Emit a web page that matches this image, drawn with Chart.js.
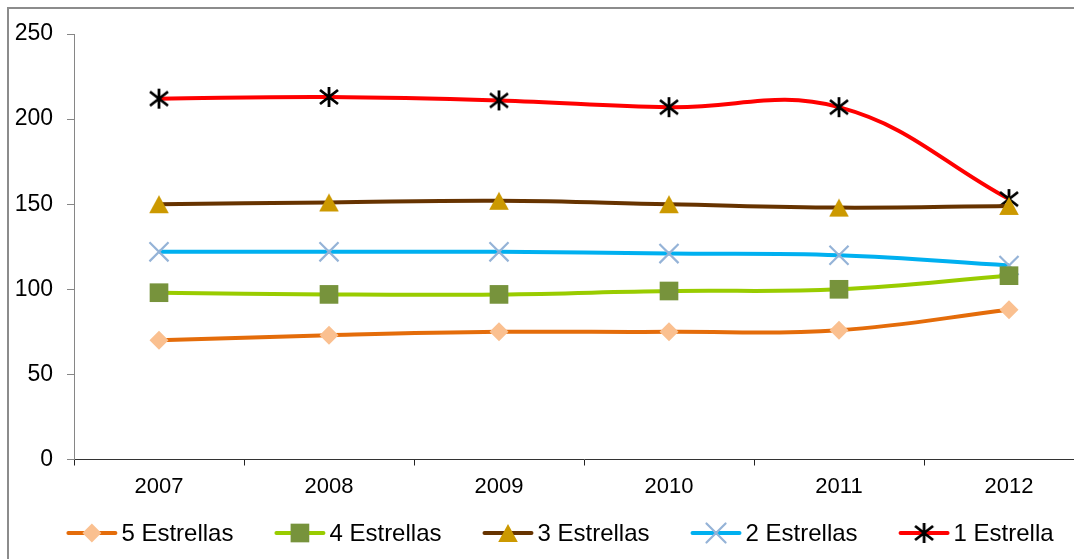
<!DOCTYPE html>
<html>
<head>
<meta charset="utf-8">
<script src="https://cdn.jsdelivr.net/npm/chart.js@4/dist/chart.umd.min.js"></script>
<style>
  html, body { margin: 0; padding: 0; background: #fff; overflow: hidden; }
  #wrap { position: relative; width: 1074px; height: 559px; overflow: hidden; background: #fff; }
  #frame { position: absolute; left: 7px; top: 7px; width: 2000px; height: 2000px;
           border-left: 2px solid #8c8c8c; border-top: 2px solid #8c8c8c; box-sizing: border-box; }
  canvas { position: absolute; left: 0; top: 0; }
</style>
</head>
<body>
<div id="wrap">
  <div id="frame"></div>
  <canvas id="c" width="1120" height="559"></canvas>
</div>
<script>
// ---- data ----
const years = ['2007', '2008', '2009', '2010', '2011', '2012'];
const seriesNames = ['5 Estrellas', '4 Estrellas', '3 Estrellas', '2 Estrellas', '1 Estrella'];
const cincoEstrellas = [70, 73, 75, 75, 76, 88];
const cuatroEstrellas = [98, 97, 97, 99, 100, 108];
const tresEstrellas = [150, 151, 152, 150, 148, 149];
const dosEstrellas = [122, 122, 122, 121, 120, 114];
const unaEstrella = [212, 213, 211, 207, 207, 153];
const yTicks = [0, 50, 100, 150, 200, 250];

// asterisk marker (vertical bar + X)
const star = document.createElement('canvas');
star.width = 22; star.height = 22;
(function () {
  const g = star.getContext('2d');
  g.strokeStyle = '#000'; g.lineWidth = 2.8; g.lineCap = 'butt';
  g.beginPath();
  g.moveTo(11, 1); g.lineTo(11, 21);
  g.moveTo(2, 4); g.lineTo(20, 18);
  g.moveTo(20, 4); g.lineTo(2, 18);
  g.stroke();
})();

// triangle marker centred on its bounding box
const tri = document.createElement('canvas');
tri.width = 20; tri.height = 20;
(function () {
  const g = tri.getContext('2d');
  g.fillStyle = '#CC9900';
  g.beginPath();
  g.moveTo(10, 1); g.lineTo(19.8, 19); g.lineTo(0.2, 19); g.closePath();
  g.fill();
})();

const FONT = "'Liberation Sans', Arial, sans-serif";

function ds(label, data, line, ptStyle, ptColor, radius, ptBorder, ptBorderW) {
  return {
    label, data,
    borderColor: line, backgroundColor: ptColor,
    borderWidth: 4, tension: 0.4,
    pointStyle: ptStyle, pointRadius: radius, pointHoverRadius: radius,
    pointBackgroundColor: ptColor, pointBorderColor: ptBorder, pointBorderWidth: ptBorderW,
    fill: false, clip: false
  };
}

const datasets = [
  ds(seriesNames[0], cincoEstrellas, '#E46C0A', 'rectRot', '#FAC090', 9.5, '#FAC090', 0),
  ds(seriesNames[1], cuatroEstrellas, '#99CC00', 'rect', '#77933C', 13.2, '#77933C', 0),
  ds(seriesNames[2], tresEstrellas, '#663300', tri, '#CC9900', 11, '#CC9900', 0),
  ds(seriesNames[3], dosEstrellas, '#00B0F0', 'crossRot', '#95B3D7', 13.5, '#95B3D7', 2.2),
  ds(seriesNames[4], unaEstrella, '#FF0000', star, '#000', 11, '#000', 0)
];

const legendPlugin = {
  id: 'excelLegend',
  afterDraw(chart) {
    const ctx = chart.ctx;
    ctx.save();
    ctx.font = '24px ' + FONT;
    const lineLen = 51, gapText = 4, gapItem = 41;
    const items = chart.data.datasets.map(d => ({ d, w: ctx.measureText(d.label).width }));
    const total = items.reduce((s, it) => s + lineLen + gapText + it.w, 0) + gapItem * (items.length - 1);
    let x = (chart.width - total) / 2;
    const y = 533;
    items.forEach(it => {
      const d = it.d;
      ctx.strokeStyle = d.borderColor; ctx.lineWidth = 4; ctx.lineCap = 'round';
      ctx.beginPath(); ctx.moveTo(x + 2, y); ctx.lineTo(x + lineLen - 2, y); ctx.stroke();
      const opts = {
        pointStyle: d.pointStyle, radius: d.pointRadius, rotation: 0,
        borderWidth: d.pointBorderWidth
      };
      ctx.fillStyle = d.pointBackgroundColor;
      ctx.strokeStyle = d.pointBorderColor;
      ctx.lineWidth = d.pointBorderWidth;
      if (Chart.helpers && Chart.helpers.drawPoint) {
        Chart.helpers.drawPoint(ctx, opts, x + lineLen / 2, y);
      } else if (d.pointStyle instanceof HTMLCanvasElement) {
        ctx.drawImage(d.pointStyle, x + lineLen / 2 - d.pointStyle.width / 2, y - d.pointStyle.height / 2);
      }
      ctx.fillStyle = '#000';
      ctx.textBaseline = 'middle'; ctx.textAlign = 'left';
      ctx.font = '24px ' + FONT;
      ctx.fillText(d.label, x + lineLen + gapText, y + 1);
      x += lineLen + gapText + it.w + gapItem;
    });
    ctx.restore();
  }
};

new Chart(document.getElementById('c'), {
  type: 'line',
  data: { labels: years, datasets },
  options: {
    responsive: false,
    animation: false,
    devicePixelRatio: 1,
    layout: { padding: { left: 0, top: 34, right: 26, bottom: 59.5 } },
    plugins: { legend: { display: false }, tooltip: { enabled: false } },
    scales: {
      x: {
        type: 'category',
        offset: true,
        grid: { offset: true, drawOnChartArea: false, drawTicks: true, tickLength: 6, color: '#222', lineWidth: 1 },
        border: { display: true, color: '#333', width: 1 },
        ticks: { color: '#000', font: { family: FONT, size: 22 }, padding: 8, maxRotation: 0, autoSkip: false },
        afterFit(scale) { scale.height = 40; }
      },
      y: {
        min: 0, max: 250,
        afterBuildTicks(scale) { scale.ticks = yTicks.map(v => ({ value: v })); },
        grid: { drawOnChartArea: false, drawTicks: true, tickLength: 7, color: '#868686', lineWidth: 1 },
        border: { display: true, color: '#868686', width: 1 },
        ticks: { color: '#000', font: { family: FONT, size: 23 }, padding: 14 },
        afterFit(scale) { scale.width = 74; }
      }
    }
  },
  plugins: [legendPlugin]
});
</script>
</body>
</html>
